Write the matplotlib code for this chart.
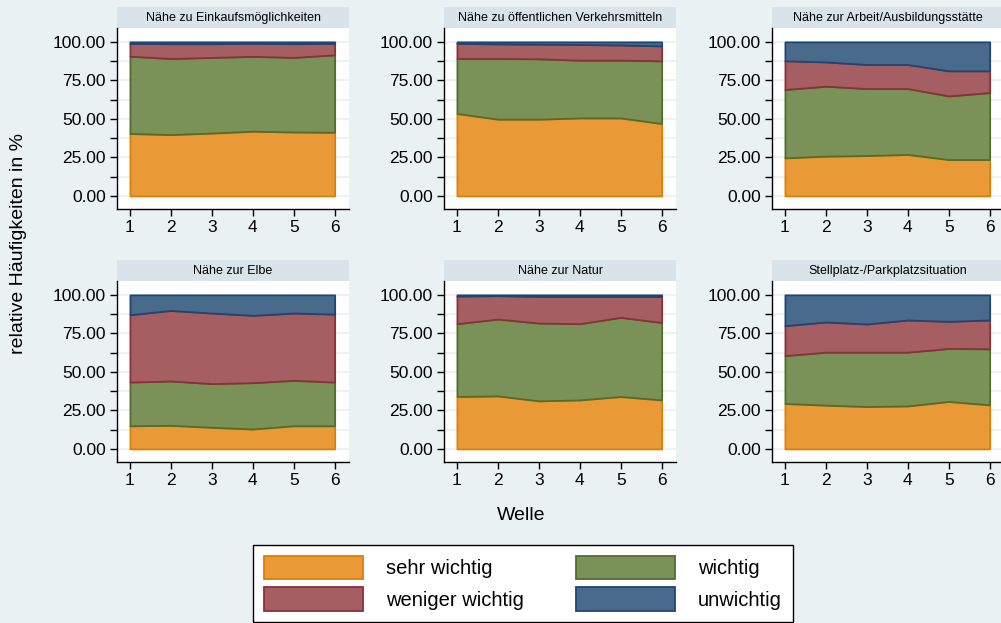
import numpy as np
import matplotlib
matplotlib.use("Agg")
import matplotlib.pyplot as plt
from matplotlib.patches import Rectangle

plt.rcParams['font.family'] = ['Liberation Sans', 'DejaVu Sans']

# Welle 1..6
welle = [1, 2, 3, 4, 5, 6]

kategorien = ['sehr wichtig', 'wichtig', 'weniger wichtig', 'unwichtig']

titel = ['Nähe zu Einkaufsmöglichkeiten',
         'Nähe zu öffentlichen Verkehrsmitteln',
         'Nähe zur Arbeit/Ausbildungsstätte',
         'Nähe zur Elbe',
         'Nähe zur Natur',
         'Stellplatz-/Parkplatzsituation']

# relative Haeufigkeiten in % je Item (sehr wichtig, wichtig, weniger wichtig, unwichtig)
einkauf_sehr = [40.5, 39.8, 40.8, 42.0, 41.5, 41.3]
einkauf_wichtig = [50.2, 49.4, 49.1, 48.6, 48.4, 50.3]
einkauf_weniger = [8.3, 9.6, 8.9, 8.4, 8.9, 7.4]
einkauf_unwichtig = [1.0, 1.2, 1.2, 1.0, 1.2, 1.0]

oepnv_sehr = [53.5, 49.8, 49.8, 50.6, 50.6, 47.0]
oepnv_wichtig = [35.7, 39.4, 39.2, 37.5, 37.5, 40.7]
oepnv_weniger = [9.8, 9.5, 9.5, 10.2, 9.9, 9.7]
oepnv_unwichtig = [1.0, 1.3, 1.5, 1.7, 2.0, 2.6]

arbeit_sehr = [24.7, 25.8, 26.2, 26.9, 23.6, 23.6]
arbeit_wichtig = [44.4, 45.4, 43.5, 42.8, 41.3, 43.5]
arbeit_weniger = [18.6, 15.8, 15.6, 15.6, 16.3, 14.1]
arbeit_unwichtig = [12.3, 13.0, 14.7, 14.7, 18.8, 18.8]

elbe_sehr = [15.0, 15.3, 14.0, 12.9, 15.0, 15.0]
elbe_wichtig = [28.4, 28.8, 28.4, 30.1, 29.5, 28.4]
elbe_weniger = [43.7, 45.8, 45.8, 43.7, 43.7, 44.1]
elbe_unwichtig = [12.9, 10.1, 11.8, 13.3, 11.8, 12.5]

natur_sehr = [34.0, 34.4, 31.2, 31.8, 34.0, 31.8]
natur_wichtig = [47.3, 49.9, 50.5, 49.5, 51.4, 50.3]
natur_weniger = [17.9, 15.2, 17.3, 17.7, 13.6, 16.9]
natur_unwichtig = [0.8, 0.5, 1.0, 1.0, 1.0, 1.0]

park_sehr = [29.5, 28.4, 27.5, 27.9, 30.8, 28.6]
park_wichtig = [31.1, 34.4, 35.3, 34.9, 34.4, 36.4]
park_weniger = [19.4, 19.6, 18.3, 20.9, 17.6, 18.7]
park_unwichtig = [20.0, 17.6, 18.9, 16.3, 17.2, 16.3]

daten = [
    [einkauf_sehr, einkauf_wichtig, einkauf_weniger, einkauf_unwichtig],
    [oepnv_sehr, oepnv_wichtig, oepnv_weniger, oepnv_unwichtig],
    [arbeit_sehr, arbeit_wichtig, arbeit_weniger, arbeit_unwichtig],
    [elbe_sehr, elbe_wichtig, elbe_weniger, elbe_unwichtig],
    [natur_sehr, natur_wichtig, natur_weniger, natur_unwichtig],
    [park_sehr, park_wichtig, park_weniger, park_unwichtig],
]

fill_cols = ['#e99a37', '#7a9257', '#a55e61', '#486b8c']
edge_cols = ['#e07d00', '#4f6e2c', '#8c2f3a', '#1d4672']
bg = '#eaf1f3'
strip_col = '#d8e4ea'

W, H = 1001, 623
fig = plt.figure(figsize=(W / 100, H / 100), dpi=100)
fig.patch.set_facecolor(bg)

lefts = [117, 444, 772]
tops = [28, 281]
aw, ah = 232, 181
strip_h = 21

handles = []
for k, (tt, serien) in enumerate(zip(titel, daten)):
    r, c = divmod(k, 3)
    ax = fig.add_axes([lefts[c] / W, 1 - (tops[r] + ah) / H, aw / W, ah / H])
    ax.set_facecolor('white')

    unten = np.zeros(len(welle))
    for i, s in enumerate(serien):
        oben = unten + np.array(s)
        h = ax.fill_between(welle, unten, oben, facecolor=fill_cols[i],
                            edgecolor=edge_cols[i], linewidth=1.3, zorder=3)
        if k == 0:
            handles.append(h)
        unten = oben

    ax.set_xlim(0.684, 6.35)
    ax.set_ylim(-8.5, 109)
    ax.set_xticks(welle)
    ax.set_yticks([0, 25, 50, 75, 100])
    ax.set_yticks([12.5, 37.5, 62.5, 87.5], minor=True)
    ax.set_yticklabels(['%.2f' % v for v in [0, 25, 50, 75, 100]])
    ax.tick_params(axis='both', which='both', direction='out', length=5,
                   width=1, labelsize=12.5, colors='black', pad=3)
    ax.grid(True, axis='y', which='both', color=bg, linewidth=1.2, zorder=0)
    for sp in ['top', 'right']:
        ax.spines[sp].set_visible(False)
    for sp in ['left', 'bottom']:
        ax.spines[sp].set_linewidth(1)

    # Titelleiste
    ax.add_patch(Rectangle((0, 1), 1, strip_h / ah, transform=ax.transAxes,
                           facecolor=strip_col, edgecolor='none', clip_on=False))
    ax.text(0.5, 1 + strip_h / ah / 2, tt, transform=ax.transAxes,
            ha='center', va='center', fontsize=9)

fig.text(19 / W, 1 - 243 / H, 'relative Häufigkeiten in %', rotation=90,
         ha='center', va='center', fontsize=14)
fig.text(521 / W, 1 - 515 / H, 'Welle', ha='center', va='center', fontsize=14)

# zeilenweise Reihenfolge wie im Original (2 Spalten)
reihenfolge = [0, 2, 1, 3]
leg = fig.legend([handles[i] for i in reihenfolge],
                 [kategorien[i] for i in reihenfolge], ncol=2, loc='upper center',
                 bbox_to_anchor=(523 / W, 1 - 535 / H), fontsize=14.5,
                 frameon=True, fancybox=False, edgecolor='black', framealpha=1,
                 handlelength=4.9, handleheight=1.4, handletextpad=1.15,
                 columnspacing=2.6, labelspacing=0.4, borderpad=0.55)
leg.get_frame().set_linewidth(1)
leg.get_frame().set_facecolor('white')

fig.savefig('out.png', dpi=100, facecolor=bg)
